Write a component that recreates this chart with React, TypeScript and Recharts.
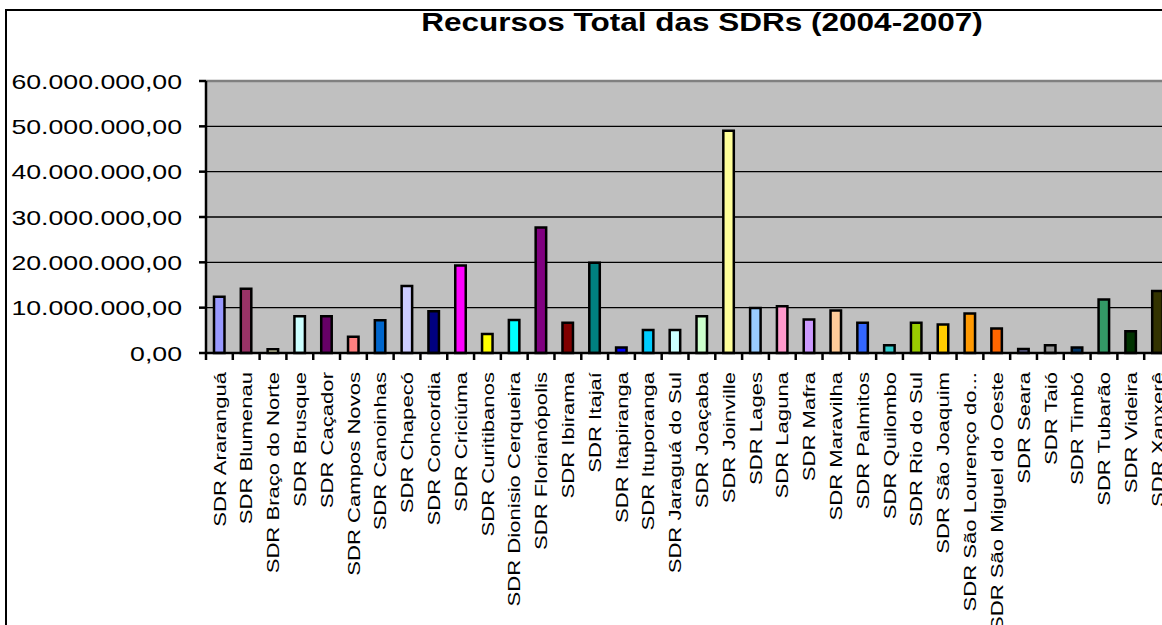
import { BarChart, Bar, XAxis, YAxis, CartesianGrid, Cell, ReferenceLine } from "recharts";

const categories = [
  "SDR Araranguá", "SDR Blumenau", "SDR Braço do Norte", "SDR Brusque", "SDR Caçador",
  "SDR Campos Novos", "SDR Canoinhas", "SDR Chapecó", "SDR Concordia", "SDR Criciúma",
  "SDR Curitibanos", "SDR Dionisio Cerqueira", "SDR Florianópolis", "SDR Ibirama", "SDR Itajaí",
  "SDR Itapiranga", "SDR Ituporanga", "SDR Jaraguá do Sul", "SDR Joaçaba", "SDR Joinville",
  "SDR Lages", "SDR Laguna", "SDR Mafra", "SDR Maravilha", "SDR Palmitos",
  "SDR Quilombo", "SDR Rio do Sul", "SDR São Joaquim", "SDR São Lourenço do...", "SDR São Miguel do Oeste",
  "SDR Seara", "SDR Taió", "SDR Timbó", "SDR Tubarão", "SDR Videira", "SDR Xanxerê",
];

const recursos = [
  12400000, 14200000, 800000, 8100000, 8100000,
  3600000, 7200000, 14800000, 9200000, 19300000,
  4200000, 7300000, 27700000, 6700000, 19900000,
  1200000, 5100000, 5100000, 8100000, 49000000,
  9900000, 10300000, 7400000, 9400000, 6700000,
  1700000, 6700000, 6300000, 8700000, 5400000,
  900000, 1700000, 1200000, 11800000, 4800000, 13700000,
];

const barColors = [
  "#9999FF", "#993366", "#FFFFCC", "#CCFFFF", "#660066",
  "#FF8080", "#0066CC", "#CCCCFF", "#000080", "#FF00FF",
  "#FFFF00", "#00FFFF", "#800080", "#800000", "#008080",
  "#0000FF", "#00CCFF", "#CCFFFF", "#CCFFCC", "#FFFF99",
  "#99CCFF", "#FF99CC", "#CC99FF", "#FFCC99", "#3366FF",
  "#33CCCC", "#99CC00", "#FFCC00", "#FF9900", "#FF6600",
  "#666699", "#969696", "#003366", "#339966", "#003300", "#333300",
];

const yTicks = [0, 10000000, 20000000, 30000000, 40000000, 50000000, 60000000];

const data = categories.map((name, i) => ({ name, valor: recursos[i] }));

const FONT = "'Liberation Sans', Arial, sans-serif";
const CHART_W = 1180;
const PLOT_LEFT = 206;
const PLOT_RIGHT_MARGIN = 9;
const STEP = (CHART_W - PLOT_LEFT - PLOT_RIGHT_MARGIN) / categories.length;

// 60000000 -> "60.000.000,00"
function brl(v: number) {
  const int = Math.round(v).toString().replace(/\B(?=(\d{3})+(?!\d))/g, ".");
  return int + ",00";
}

function YTick(props: any) {
  const { x, y, payload } = props;
  return (
    <g transform={`translate(${x},${y}) scale(1.27,1)`}>
      <text textAnchor="end" dy="0.36em" fontSize={21} fontFamily={FONT} fill="#000">
        {brl(payload.value)}
      </text>
    </g>
  );
}

function XTick(props: any) {
  const { x, y, payload } = props;
  const bx = x - STEP / 2;
  return (
    <g>
      <line x1={bx} x2={bx} y1={y} y2={y + 7} stroke="#000" strokeWidth={2.5} />
      <g transform={`translate(${x},${y + 19}) rotate(-90) scale(1.3,1)`}>
        <text textAnchor="end" dy="0.36em" fontSize={17} fontFamily={FONT} fill="#000">
          {payload.value}
        </text>
      </g>
    </g>
  );
}

export default function App() {
  return (
    <div style={{ position: "absolute", left: 0, top: 0, width: 1162, height: 625, overflow: "hidden", background: "#fff" }}>
      <div
        style={{
          position: "absolute", left: 5, top: 9, width: 1300, height: 700,
          borderLeft: "2px solid #000", borderTop: "2px solid #000",
        }}
      />
      <div
        style={{
          position: "absolute", left: 702, top: 8, transform: "translateX(-50%) scaleX(1.26)",
          fontFamily: FONT, fontWeight: "bold", fontSize: 25, whiteSpace: "nowrap", color: "#000",
        }}
      >
        Recursos Total das SDRs (2004-2007)
      </div>
      <div style={{ position: "absolute", left: 0, top: 0 }}>
        <BarChart
          width={CHART_W}
          height={625}
          data={data}
          margin={{ top: 81, right: PLOT_RIGHT_MARGIN, left: 0, bottom: 0 }}
          barSize={10.5}
        >
          <CartesianGrid vertical={false} fill="#C0C0C0" stroke="#000" strokeWidth={1.4} />
          <ReferenceLine y={60000000} stroke="#808080" strokeWidth={2.5} />
          <XAxis
            dataKey="name"
            interval={0}
            height={272}
            tickLine={false}
            tickSize={0}
            tickMargin={0}
            axisLine={{ stroke: "#000", strokeWidth: 2.5 }}
            tick={<XTick />}
          />
          <YAxis
            width={PLOT_LEFT}
            domain={[0, 60000000]}
            ticks={yTicks}
            interval={0}
            tickSize={7}
            tickMargin={17}
            tickLine={{ stroke: "#000", strokeWidth: 2.5 }}
            axisLine={{ stroke: "#000", strokeWidth: 2.5 }}
            tick={<YTick />}
          />
          <Bar dataKey="valor" stroke="#000" strokeWidth={2.5} isAnimationActive={false}>
            {data.map((d, i) => (
              <Cell key={d.name} fill={barColors[i]} />
            ))}
          </Bar>
        </BarChart>
      </div>
    </div>
  );
}
